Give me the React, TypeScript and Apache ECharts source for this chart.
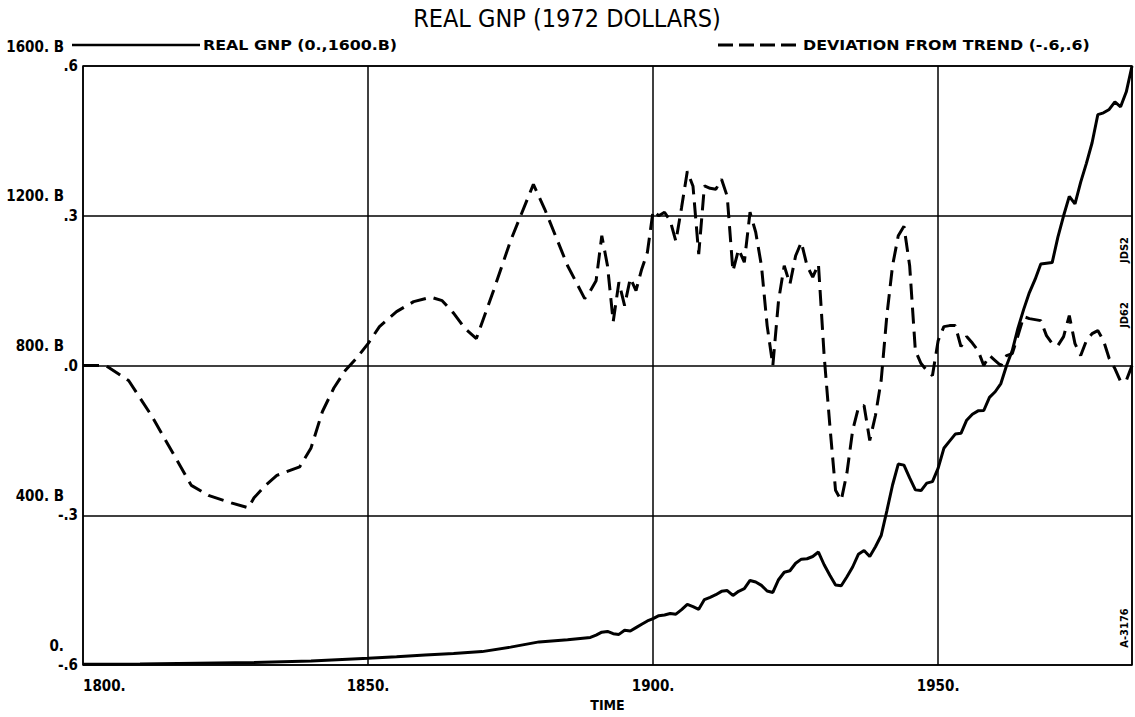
import React, { useEffect, useRef } from "react";
import * as echarts from "echarts";

const FONT = "'DejaVu Sans Condensed', 'DejaVu Sans', sans-serif";

const titleText = "REAL GNP (1972 DOLLARS)";
const legendGnp = "REAL GNP (0.,1600.B)";
const legendDev = "DEVIATION FROM TREND (-.6,.6)";
const sideNotes = ["JDS2", "JD62", "A-3176"];

const gnpYears = [
  1800, 1810, 1820, 1830, 1840, 1850, 1855, 1860, 1865, 1870, 1875, 1880, 1885, 1889,
  1890, 1891, 1892, 1893, 1894, 1895, 1896, 1897, 1898, 1899, 1900, 1901, 1902, 1903,
  1904, 1905, 1906, 1907, 1908, 1909, 1910, 1911, 1912, 1913, 1914, 1915, 1916, 1917,
  1918, 1919, 1920, 1921, 1922, 1923, 1924, 1925, 1926, 1927, 1928, 1929, 1930, 1931,
  1932, 1933, 1934, 1935, 1936, 1937, 1938, 1939, 1940, 1941, 1942, 1943, 1944, 1945,
  1946, 1947, 1948, 1949, 1950, 1951, 1952, 1953, 1954, 1955, 1956, 1957, 1958, 1959,
  1960, 1961, 1962, 1963, 1964, 1965, 1966, 1967, 1968, 1969, 1970, 1971, 1972, 1973,
  1974, 1975, 1976, 1977, 1978, 1979, 1980, 1981, 1982, 1983, 1984,
];
const gnpValues = [
  2, 3, 5, 7, 11, 18, 22, 27, 31, 36, 48, 62, 68, 74,
  80, 88, 90, 84, 82, 93, 91, 100, 109, 118, 124, 132, 134, 138,
  136, 148, 162, 156, 149, 175, 181, 188, 197, 199, 186, 197, 204, 226,
  222, 213, 198, 194, 228, 248, 252, 272, 283, 284, 290, 302, 268, 240,
  214, 212, 236, 262, 296, 306, 290, 316, 346, 412, 481, 537, 534, 500,
  468, 466, 486, 490, 526, 579, 598, 617, 619, 654, 670, 679, 680, 715,
  730, 752, 800, 840, 900, 950, 995, 1030, 1071, 1073, 1075, 1143, 1200, 1252,
  1232, 1290, 1340, 1395, 1470, 1475, 1484, 1504, 1491, 1531, 1600,
];

const devYears = [
  1800, 1804, 1808, 1812, 1816, 1819, 1822, 1826, 1829, 1830, 1832, 1834, 1838, 1840,
  1842, 1844, 1846, 1848, 1850, 1852, 1855, 1858, 1861, 1863, 1865, 1867, 1869, 1872,
  1875, 1879, 1881, 1885, 1888, 1889, 1890, 1891, 1892, 1893, 1894, 1895, 1896, 1897,
  1898, 1899, 1900, 1901, 1902, 1903, 1904, 1905, 1906, 1907, 1908, 1909, 1910, 1911,
  1912, 1913, 1914, 1915, 1916, 1917, 1918, 1919, 1920, 1921, 1922, 1923, 1924, 1925,
  1926, 1927, 1928, 1929, 1930, 1931, 1932, 1933, 1934, 1935, 1936, 1937, 1938, 1939,
  1940, 1941, 1942, 1943, 1944, 1945, 1946, 1947, 1948, 1949, 1950, 1951, 1952, 1953,
  1954, 1955, 1956, 1957, 1958, 1959, 1960, 1961, 1962, 1963, 1964, 1965, 1966, 1967,
  1968, 1969, 1970, 1971, 1972, 1973, 1974, 1975, 1976, 1977, 1978, 1979, 1980, 1981,
  1982, 1983, 1984,
];
const devValues = [
  0, 0, -0.03, -0.1, -0.18, -0.24, -0.26, -0.275, -0.285, -0.265, -0.24, -0.22, -0.203, -0.165,
  -0.092, -0.045, -0.01, 0.015, 0.044, 0.078, 0.108, 0.128, 0.137, 0.13, 0.105, 0.074, 0.054, 0.15,
  0.25, 0.363, 0.313, 0.2, 0.134, 0.15, 0.17, 0.26, 0.2, 0.088, 0.167, 0.12, 0.175, 0.15,
  0.193, 0.227, 0.31, 0.3, 0.307, 0.29, 0.249, 0.317, 0.389, 0.359, 0.223, 0.36, 0.355, 0.353,
  0.373, 0.339, 0.189, 0.233, 0.207, 0.307, 0.267, 0.2, 0.08, 0.0, 0.13, 0.2, 0.163, 0.22,
  0.247, 0.2, 0.177, 0.203, 0.02, -0.12, -0.25, -0.27, -0.215, -0.13, -0.085, -0.08, -0.15, -0.1,
  -0.03, 0.1, 0.2, 0.26, 0.279, 0.2, 0.03, 0.004, -0.01, -0.02, 0.05, 0.078, 0.08, 0.08,
  0.038, 0.058, 0.045, 0.03, 0.0, 0.02, 0.01, 0.0, 0.02, 0.024, 0.06, 0.098, 0.094, 0.092,
  0.09, 0.06, 0.044, 0.04, 0.058, 0.1, 0.044, 0.02, 0.05, 0.064, 0.07, 0.05, 0.014, -0.006,
  -0.032, -0.03, 0.0,
];

const gnpTickValues = [0, 400, 800, 1200, 1600];
const gnpTickLabels = ["0.", "400. B", "800. B", "1200. B", "1600. B"];
const devTickValues = [-0.6, -0.3, 0, 0.3, 0.6];
const devTickLabels = ["-.6", "-.3", ".0", ".3", ".6"];
const xTickValues = [1800, 1850, 1900, 1950];
const xTickLabels = ["1800.", "1850.", "1900.", "1950."];

function lookup(values: number[], labels: string[], v: number, eps: number) {
  for (let i = 0; i < values.length; i++) {
    if (Math.abs(values[i] - v) < eps) return labels[i];
  }
  return "";
}

export default function App() {
  const ref = useRef<HTMLDivElement>(null);

  useEffect(() => {
    if (!ref.current) return;
    const chart = echarts.init(ref.current, undefined, { renderer: "svg" });
    const labelStyle = {
      fontFamily: FONT,
      fontSize: 15,
      fontWeight: "bold" as const,
      color: "#000",
    };
    const sideNote = (text: string, y: number) => ({
      type: "text",
      x: 1124,
      y,
      rotation: Math.PI / 2,
      style: {
        text,
        font: `bold 11px ${FONT}`,
        fill: "#000",
        align: "center",
        verticalAlign: "middle",
      },
    });
    const option: any = {
      animation: false,
      backgroundColor: "#fff",
      grid: {
        left: 83,
        right: 3,
        top: 66,
        bottom: 49,
        show: true,
        borderColor: "#000",
        borderWidth: 1.5,
        backgroundColor: "transparent",
      },
      xAxis: {
        type: "value",
        min: 1800,
        max: 1984,
        interval: 50,
        axisLine: { show: false },
        axisTick: { show: false },
        splitLine: { show: true, lineStyle: { color: "#000", width: 1.5 } },
        axisLabel: {
          ...labelStyle,
          margin: 13,
          alignMinLabel: "left",
          formatter: (v: number) => lookup(xTickValues, xTickLabels, v, 0.5),
        },
        name: "TIME",
        nameLocation: "middle",
        nameGap: 32,
        nameTextStyle: { ...labelStyle, fontSize: 14, verticalAlign: "top" },
      },
      yAxis: [
        {
          type: "value",
          position: "left",
          min: -0.6,
          max: 0.6,
          interval: 0.3,
          axisLine: { show: false },
          axisTick: { show: false },
          splitLine: { show: true, lineStyle: { color: "#000", width: 1.5 } },
          axisLabel: {
            ...labelStyle,
            margin: 5,
            formatter: (v: number) => lookup(devTickValues, devTickLabels, v, 0.01),
          },
        },
        {
          type: "value",
          position: "left",
          min: 0,
          max: 1600,
          interval: 400,
          axisLine: { show: false },
          axisTick: { show: false },
          splitLine: { show: false },
          axisLabel: {
            ...labelStyle,
            margin: 19,
            verticalAlign: "bottom",
            padding: [0, 0, 12, 0],
            formatter: (v: number) => lookup(gnpTickValues, gnpTickLabels, v, 1),
          },
        },
      ],
      graphic: [
        {
          type: "text",
          x: 567,
          y: 18,
          style: {
            text: titleText,
            font: `normal 25px ${FONT}`,
            fill: "#000",
            align: "center",
            verticalAlign: "middle",
          },
        },
        {
          type: "line",
          shape: { x1: 72, y1: 45, x2: 200, y2: 45 },
          style: { stroke: "#000", lineWidth: 2.5 },
        },
        {
          type: "text",
          x: 203,
          y: 45,
          scaleX: 1.26,
          style: {
            text: legendGnp,
            font: `bold 14px ${FONT}`,
            fill: "#000",
            verticalAlign: "middle",
          },
        },
        {
          type: "line",
          shape: { x1: 718, y1: 45, x2: 800, y2: 45 },
          style: { stroke: "#000", lineWidth: 2.8, lineDash: [15, 6] },
        },
        {
          type: "text",
          x: 803,
          y: 45,
          scaleX: 1.26,
          style: {
            text: legendDev,
            font: `bold 14px ${FONT}`,
            fill: "#000",
            verticalAlign: "middle",
          },
        },
        sideNote(sideNotes[0], 250),
        sideNote(sideNotes[1], 315),
        sideNote(sideNotes[2], 628),
      ],
      series: [
        {
          name: "DEVIATION FROM TREND",
          type: "line",
          yAxisIndex: 0,
          showSymbol: false,
          symbol: "none",
          data: devYears.map((y, i) => [y, devValues[i]]),
          lineStyle: { color: "#000", width: 3, type: [16, 8] },
          z: 3,
        },
        {
          name: "REAL GNP",
          type: "line",
          yAxisIndex: 1,
          showSymbol: false,
          symbol: "none",
          data: gnpYears.map((y, i) => [y, gnpValues[i]]),
          lineStyle: { color: "#000", width: 3 },
          z: 4,
        },
      ],
    };
    chart.setOption(option);
    return () => chart.dispose();
  }, []);

  return (
    <div
      ref={ref}
      style={{ position: "absolute", left: 0, top: 0, width: 1135, height: 717, background: "#fff" }}
    />
  );
}
